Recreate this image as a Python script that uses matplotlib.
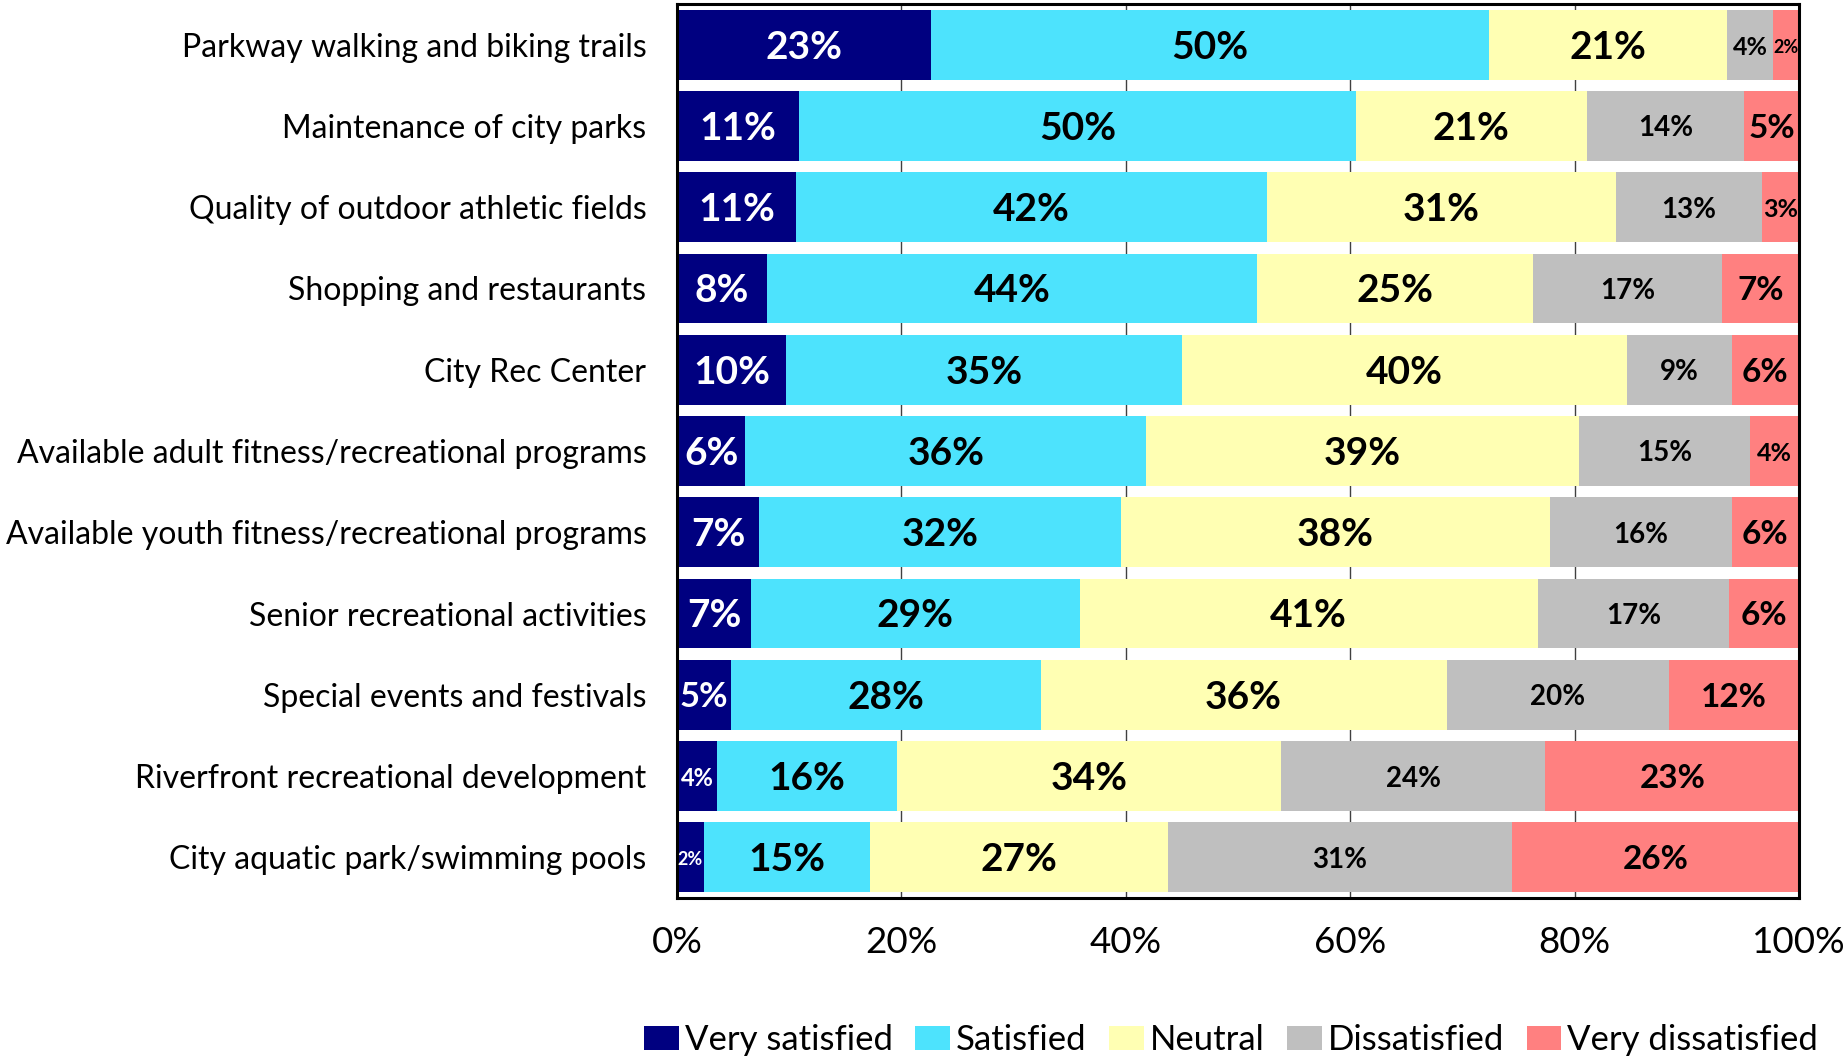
import matplotlib
matplotlib.use("Agg")
import matplotlib.pyplot as plt
from matplotlib.patches import Patch

categories = [
    "Parkway walking and biking trails",
    "Maintenance of city parks",
    "Quality of outdoor athletic fields",
    "Shopping and restaurants",
    "City Rec Center",
    "Available adult fitness/recreational programs",
    "Available youth fitness/recreational programs",
    "Senior recreational activities",
    "Special events and festivals",
    "Riverfront recreational development",
    "City aquatic park/swimming pools",
]
series_names = ["Very satisfied", "Satisfied", "Neutral", "Dissatisfied", "Very dissatisfied"]
very_satisfied = [22.6, 10.9, 10.6, 8.0, 9.7, 6.1, 7.3, 6.6, 4.8, 3.6, 2.4]
satisfied = [49.8, 49.6, 42.0, 43.7, 35.3, 35.7, 32.3, 29.3, 27.6, 16.0, 14.8]
neutral = [21.2, 20.6, 31.1, 24.6, 39.7, 38.6, 38.2, 40.8, 36.2, 34.2, 26.6]
dissatisfied = [4.1, 14.0, 13.0, 16.8, 9.3, 15.2, 16.2, 17.1, 19.8, 23.6, 30.6]
very_dissatisfied = [2.3, 4.9, 3.3, 6.9, 6.0, 4.4, 6.0, 6.2, 11.6, 22.6, 25.6]
tick_values = [0, 20, 40, 60, 80, 100]
tick_labels = ["0%", "20%", "40%", "60%", "80%", "100%"]

colors = ["#000080", "#4DE3FD", "#FFFFB3", "#BFBFBF", "#FF8080"]
text_colors = ["white", "black", "black", "black", "black"]

FONT = ["Lato", "DejaVu Sans"]
plt.rcParams["font.family"] = FONT

fig = plt.figure(figsize=(18.46, 10.57), dpi=100)
ax = fig.add_axes([677 / 1846, 1 - 898 / 1057, 1122 / 1846, 894 / 1057])

data = [very_satisfied, satisfied, neutral, dissatisfied, very_dissatisfied]
n = len(categories)
ypos = list(range(n))
left = [0.0] * n
bar_h = 0.86


def label_size(series_idx, w):
    if w < 3:
        return 13
    if w < 4.5:
        return 17 if series_idx == 0 else 18
    if series_idx == 3:
        return 20
    if series_idx == 4:
        return 24
    if w < 5.5:
        return 25
    return 28


for si, (vals, col) in enumerate(zip(data, colors)):
    ax.barh(ypos, vals, left=left, height=bar_h, color=col, zorder=2,
            label=series_names[si])
    for yi, (v, l0) in enumerate(zip(vals, left)):
        ax.text(l0 + v / 2, yi + 0.03, f"{int(round(v))}%", ha="center", va="center",
                color=text_colors[si], fontsize=label_size(si, v), fontweight="bold",
                zorder=3)
    left = [a + b for a, b in zip(left, vals)]

ax.set_xlim(0, 100)
ax.set_ylim(n - 0.5, -0.5)
ax.set_yticks(ypos)
ax.set_yticklabels(categories, fontsize=23)
ax.set_xticks(tick_values)
ax.set_xticklabels(tick_labels, fontsize=26.5)
ax.tick_params(axis="both", length=0)
ax.tick_params(axis="y", pad=22)
ax.tick_params(axis="x", pad=20)
ax.xaxis.grid(True, color="#404040", linewidth=1, zorder=0)
ax.set_axisbelow(True)
for sp in ax.spines.values():
    sp.set_linewidth(2.2)
    sp.set_color("black")

handles = [Patch(facecolor=c, edgecolor="none") for c in colors]
fig.legend(handles, series_names, loc="center", bbox_to_anchor=(1231 / 1846, 1 - 1040 / 1057),
           ncol=5, frameon=False, fontsize=25, handlelength=1.0, handleheight=0.7,
           handletextpad=0.17, columnspacing=0.65, borderaxespad=0)

fig.savefig("out.png", dpi=100)
